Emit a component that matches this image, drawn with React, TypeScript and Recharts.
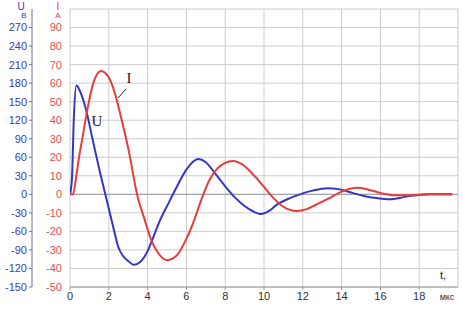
import { LineChart, Line, XAxis, YAxis, CartesianGrid, ReferenceLine } from 'recharts';

// voltage U (V) over time t (мкс)
const U_TIME = [0, 0.1, 0.2, 0.33, 0.5, 0.8, 1.2, 1.55, 1.82, 2.16, 2.5, 3.0, 3.3, 3.6, 4.0, 4.2, 4.6, 5.1, 5.5, 6.0, 6.6, 7.0, 7.5, 8.0, 8.5, 9.0, 9.4, 9.85, 10.2, 10.7, 11.2, 11.85, 12.5, 13.25, 13.9, 14.6, 15.2, 15.8, 16.5, 17.0, 17.4, 18.0, 18.5, 19.7];
const U_VALUES = [0, 25, 125, 176, 168, 140, 84, 35, 0, -44, -86, -108, -114, -110, -92, -77, -45, -13, 12, 40, 57, 52, 33, 13, -5, -19, -27, -32, -28, -16, -8, 0, 6, 10, 8, 2, -3, -6, -8, -6, -3, -1, 0, 0];

// current I (A)
const I_TIME = [0, 0.15, 0.3, 0.45, 0.6, 0.9, 1.2, 1.6, 2.0, 2.3, 2.6, 3.0, 3.5, 3.8, 4.2, 4.5, 5.0, 5.5, 6.0, 6.4, 6.8, 7.2, 7.6, 8.0, 8.4, 8.9, 9.5, 10.0, 10.4, 10.9, 11.7, 12.2, 12.7, 13.3, 14.0, 14.8, 15.4, 16.1, 16.8, 17.5, 18.5, 19.7];
const I_VALUES = [0, 0, 8, 19, 28, 46, 60, 66.5, 63, 55, 43, 25, -2, -12, -25, -31, -35.5, -33, -24, -14, -2, 8, 14, 17, 18, 16, 10, 4, -1, -6, -9, -8, -5.5, -2.5, 1.5, 3.5, 2.5, 0.5, -0.5, -0.5, 0, 0];

const X_TICKS = [0, 2, 4, 6, 8, 10, 12, 14, 16, 18];
const U_TICKS = [-150, -120, -90, -60, -30, 0, 30, 60, 90, 120, 150, 180, 210, 240, 270];
const I_TICKS = [-50, -40, -30, -20, -10, 0, 10, 20, 30, 40, 50, 60, 70, 80, 90];

const BLUE = '#3535c8';
const RED = '#e63c3c';
const FONT = '"Liberation Sans", Arial, sans-serif';

const uData = U_TIME.map((t, k) => ({ t, u: U_VALUES[k] }));
const iData = I_TIME.map((t, k) => ({ t, i: I_VALUES[k] }));

export default function App() {
  return (
    <div style={{ position: 'absolute', left: 0, top: 0, width: 463, height: 310, background: '#fff', fontFamily: FONT }}>
      <LineChart width={463} height={310} margin={{ top: 9, right: 5, bottom: 0, left: 0 }}>
        <CartesianGrid stroke="#cccccc" yAxisId="u" />
        <XAxis
          dataKey="t"
          type="number"
          domain={[0, 20]}
          ticks={X_TICKS}
          allowDataOverflow
          height={23}
          stroke="#999"
          tickSize={3}
          tick={{ fill: '#333', fontSize: 11, fontFamily: FONT }}
        />
        <YAxis
          yAxisId="i"
          orientation="left"
          domain={[-50, 100]}
          ticks={I_TICKS}
          width={38}
          axisLine={false}
          tickLine={false}
          tickSize={6}
          interval={0}
          tick={{ fill: '#e65050', fontSize: 11, fontFamily: FONT }}
        />
        <YAxis
          yAxisId="u"
          orientation="left"
          domain={[-150, 300]}
          ticks={U_TICKS}
          width={32}
          stroke="#7070a0"
          tickSize={3}
          interval={0}
          tick={{ fill: '#3c3cb4', fontSize: 11, fontFamily: FONT }}
        />
        <ReferenceLine y={0} yAxisId="u" stroke="#999" />
        <Line data={uData} dataKey="u" yAxisId="u" type="monotone" stroke={BLUE} strokeWidth={2} dot={false} isAnimationActive={false} />
        <Line data={iData} dataKey="i" yAxisId="i" type="monotone" stroke={RED} strokeWidth={2} dot={false} isAnimationActive={false} />
      </LineChart>
      <svg width={463} height={310} style={{ position: 'absolute', left: 0, top: 0, pointerEvents: 'none' }}>
        <text x={21} y={10} fill={BLUE} fontSize={10} textAnchor="middle" fontFamily={FONT}>U</text>
        <text x={24} y={18} fill={BLUE} fontSize={8} textAnchor="middle" fontFamily={FONT}>В</text>
        <text x={58} y={10} fill={RED} fontSize={10} textAnchor="middle" fontFamily={FONT}>I</text>
        <text x={58} y={18} fill={RED} fontSize={8} textAnchor="middle" fontFamily={FONT}>А</text>
        <text x={97} y={126} fill="#222" fontSize={15} textAnchor="middle" fontFamily='"Liberation Serif", serif'>U</text>
        <text x={129} y={83} fill="#222" fontSize={15} textAnchor="middle" fontFamily='"Liberation Serif", serif'>I</text>
        <line x1={126} y1={89} x2={118} y2={98} stroke="#222" strokeWidth={1} />
        <text x={443} y={279} fill="#222" fontSize={11} textAnchor="middle" fontFamily={FONT}>t,</text>
        <text x={447} y={300} fill="#333" fontSize={9} textAnchor="middle" fontFamily={FONT}>мкс</text>
      </svg>
    </div>
  );
}
